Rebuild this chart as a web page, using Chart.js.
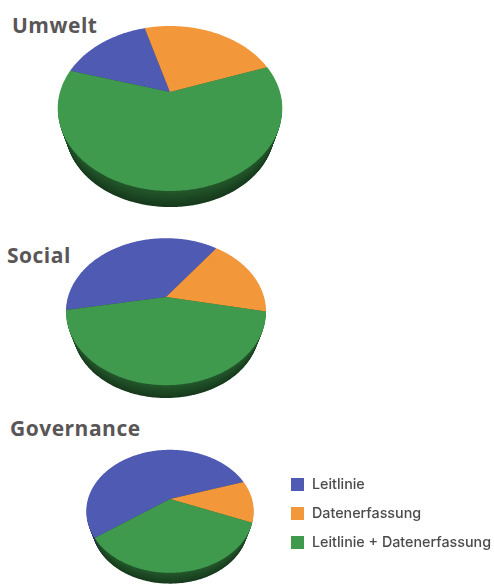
<!DOCTYPE html>
<html lang="de">
<head>
<meta charset="utf-8">
<title>Umwelt, Social, Governance</title>
<script src="https://cdn.jsdelivr.net/npm/chart.js@4"></script>
<style>
  html, body { margin: 0; padding: 0; background: #fff; }
  body { position: relative; width: 494px; height: 586px; overflow: hidden; font-family: Inter, sans-serif; }
  .pie { position: absolute; }
  .title { position: absolute; margin: 0; font: 700 21px "Open Sans", sans-serif; letter-spacing: 0.5px; color: #5a5658; line-height: 24px; }
  .legend { position: absolute; left: 291px; top: 474px; }
  .legend div { position: relative; height: 29px; line-height: 19px; padding-left: 21px; font-size: 14.3px; font-weight: 500; color: #4d4a4c; white-space: nowrap; }
  .legend i { position: absolute; left: 0; top: 4px; width: 13px; height: 13px; }
</style>
</head>
<body>
<h2 class="title" style="left:12px;top:13px">Umwelt</h2>
<h2 class="title" style="left:7px;top:243px">Social</h2>
<h2 class="title" style="left:10px;top:416px">Governance</h2>
<canvas class="pie" id="umweltPie"></canvas>
<canvas class="pie" id="socialPie"></canvas>
<canvas class="pie" id="governancePie"></canvas>
<div class="legend" id="legend"></div>

<script>
// Shares in percent, same order in all three pies
const categories = ['Leitlinie', 'Datenerfassung', 'Leitlinie + Datenerfassung'];
const umweltValues = [16, 24, 60];
const socialValues = [38, 18, 44];
const governanceValues = [55, 11, 34];
const colors = ['#4f5bb2', '#f2983a', '#3f9a4d'];

// ==========================================
// Tilted disc: draws the arcs Chart.js computed, seen in perspective
// ==========================================
const TILT = 0.72;
const PERSPECTIVE = 0.2;

function darken(hex, f) {
    const n = parseInt(hex.slice(1), 16);
    return `rgb(${(n >> 16) * f | 0}, ${((n >> 8) & 255) * f | 0}, ${(n & 255) * f | 0})`;
}

function traceSlice(ctx, arc, scale, drop) {
    const R = arc.outerRadius * scale;
    const point = a => {
        const u = Math.cos(a), v = Math.sin(a);
        const w = 1 - PERSPECTIVE * v;
        return [arc.x + R * u / w, arc.y + drop + R * TILT * v / w];
    };
    ctx.beginPath();
    ctx.moveTo(arc.x, arc.y + drop);
    const steps = Math.ceil((arc.endAngle - arc.startAngle) * 60);
    for (let i = 0; i <= steps; i++) {
        const p = point(arc.startAngle + (arc.endAngle - arc.startAngle) * i / steps);
        ctx.lineTo(p[0], p[1]);
    }
    ctx.closePath();
}

const tiltedDisc = {
    id: 'tiltedDisc',
    beforeDatasetsDraw(chart, args, opts) {
        const ctx = chart.ctx;
        const arcs = chart.getDatasetMeta(0).data;
        ctx.save();
        // side wall, lowest layer first, narrowing towards the bottom
        for (let t = opts.drop; t > 0; t--) {
            const k = t / opts.drop;
            arcs.forEach(arc => {
                traceSlice(ctx, arc, 1 - opts.shrink * k, t);
                ctx.fillStyle = darken(arc.options.backgroundColor, 0.58 - 0.2 * k);
                ctx.fill();
            });
        }
        // top face
        arcs.forEach(arc => {
            traceSlice(ctx, arc, 1, 0);
            ctx.fillStyle = arc.options.backgroundColor;
            ctx.fill();
        });
        ctx.restore();
        return false;
    }
};

function makePie(id, values, hubX, hubY, radius, rotation, drop, shrink) {
    const canvas = document.getElementById(id);
    const size = Math.round(radius * 3);
    canvas.style.left = (hubX - size / 2) + 'px';
    canvas.style.top = (hubY - size / 2) + 'px';
    canvas.style.width = size + 'px';
    canvas.style.height = size + 'px';
    canvas.width = size;
    canvas.height = size;
    return new Chart(canvas, {
        type: 'pie',
        data: {
            labels: categories,
            datasets: [{ data: values, backgroundColor: colors, borderWidth: 0 }]
        },
        options: {
            responsive: false,
            animation: false,
            rotation: rotation,
            radius: radius,
            events: [],
            plugins: {
                legend: { display: false },
                tooltip: { enabled: false },
                tiltedDisc: { drop: drop, shrink: shrink }
            }
        },
        plugins: [tiltedDisc]
    });
}

makePie('umweltPie', umweltValues, 170, 92, 110, 286.5, 23, 0.07);
makePie('socialPie', socialValues, 166, 297, 98, 259.8, 19, 0.07);
makePie('governancePie', governanceValues, 170, 499, 82, 234.3, 16, 0.07);

// Legend next to the last pie
const legendBox = document.getElementById('legend');
categories.forEach((name, i) => {
    const row = document.createElement('div');
    const swatch = document.createElement('i');
    swatch.style.background = colors[i];
    row.appendChild(swatch);
    row.appendChild(document.createTextNode(name));
    legendBox.appendChild(row);
});
</script>
</body>
</html>
